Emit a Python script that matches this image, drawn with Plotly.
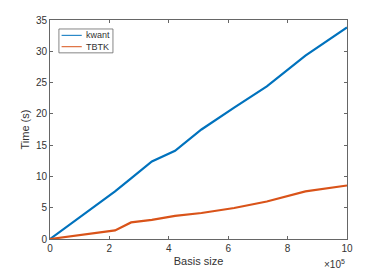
import plotly.graph_objects as go

basis_size = [0, 0.95, 1.26, 2.19, 2.73, 3.43, 4.21, 5.1, 6.2, 7.3, 8.6, 10]  # x 1e5
kwant_time = [0, 3.3, 4.4, 7.6, 9.7, 12.4, 14.1, 17.5, 21.0, 24.4, 29.3, 33.8]
tbtk_time = [0, 0.6, 0.8, 1.37, 2.65, 3.05, 3.7, 4.15, 4.95, 6.0, 7.6, 8.55]
x_ticks = [0, 2, 4, 6, 8, 10]
y_ticks = [0, 5, 10, 15, 20, 25, 30, 35]
series_names = ["kwant", "TBTK"]

BLUE = "#0072BD"
ORANGE = "#D95319"
DARK = "#333333"
AXIS = "#666666"
FONT = "Liberation Sans, Arial, sans-serif"

fig = go.Figure()
fig.add_trace(go.Scatter(x=basis_size, y=kwant_time, mode="lines", name=series_names[0],
                         line=dict(color=BLUE, width=2.2), showlegend=False))
fig.add_trace(go.Scatter(x=basis_size, y=tbtk_time, mode="lines", name=series_names[1],
                         line=dict(color=ORANGE, width=2.2), showlegend=False))

axis_common = dict(showgrid=False, zeroline=False, showline=True, mirror="ticks",
                   linecolor=AXIS, linewidth=0.8, ticks="inside", ticklen=3,
                   tickcolor=AXIS, automargin=False,
                   tickfont=dict(size=10, color=DARK, family=FONT))

# hand-drawn legend box (paper coordinates)
shapes = [dict(type="rect", xref="paper", yref="paper", x0=0.030, x1=0.212,
               y0=0.850, y1=0.959, line=dict(color=AXIS, width=0.8), fillcolor="white")]
annotations = []
for name, color, yy in [(series_names[0], BLUE, 0.930), (series_names[1], ORANGE, 0.878)]:
    shapes.append(dict(type="line", xref="paper", yref="paper", x0=0.039, x1=0.107,
                       y0=yy, y1=yy, line=dict(color=color, width=1)))
    annotations.append(dict(text=name, xref="paper", yref="paper", x=0.116, y=yy,
                            xanchor="left", yanchor="middle", showarrow=False,
                            font=dict(size=9, color=DARK)))
annotations.append(dict(text="×10<sup>5</sup>", xref="paper", yref="paper",
                        x=1.0, y=-0.115, xanchor="right", yanchor="middle",
                        showarrow=False, font=dict(size=10, color=DARK)))

fig.update_layout(
    width=383, height=271,
    margin=dict(l=50, r=36, t=20, b=32),
    paper_bgcolor="white", plot_bgcolor="white",
    font=dict(family=FONT, color=DARK, size=10),
    showlegend=False,
    xaxis=dict(range=[0, 10], tickvals=x_ticks, ticktext=[str(v) for v in x_ticks],
               title=dict(text="Basis size", font=dict(size=11), standoff=4), **axis_common),
    yaxis=dict(range=[0, 35], tickvals=y_ticks, ticktext=[str(v) for v in y_ticks],
               title=dict(text="Time (s)", font=dict(size=11), standoff=4), **axis_common),
    shapes=shapes,
    annotations=annotations,
)

fig.write_html("out.html", config={"displayModeBar": False},
               post_script="document.body.style.margin='0';document.body.style.padding='0';")
